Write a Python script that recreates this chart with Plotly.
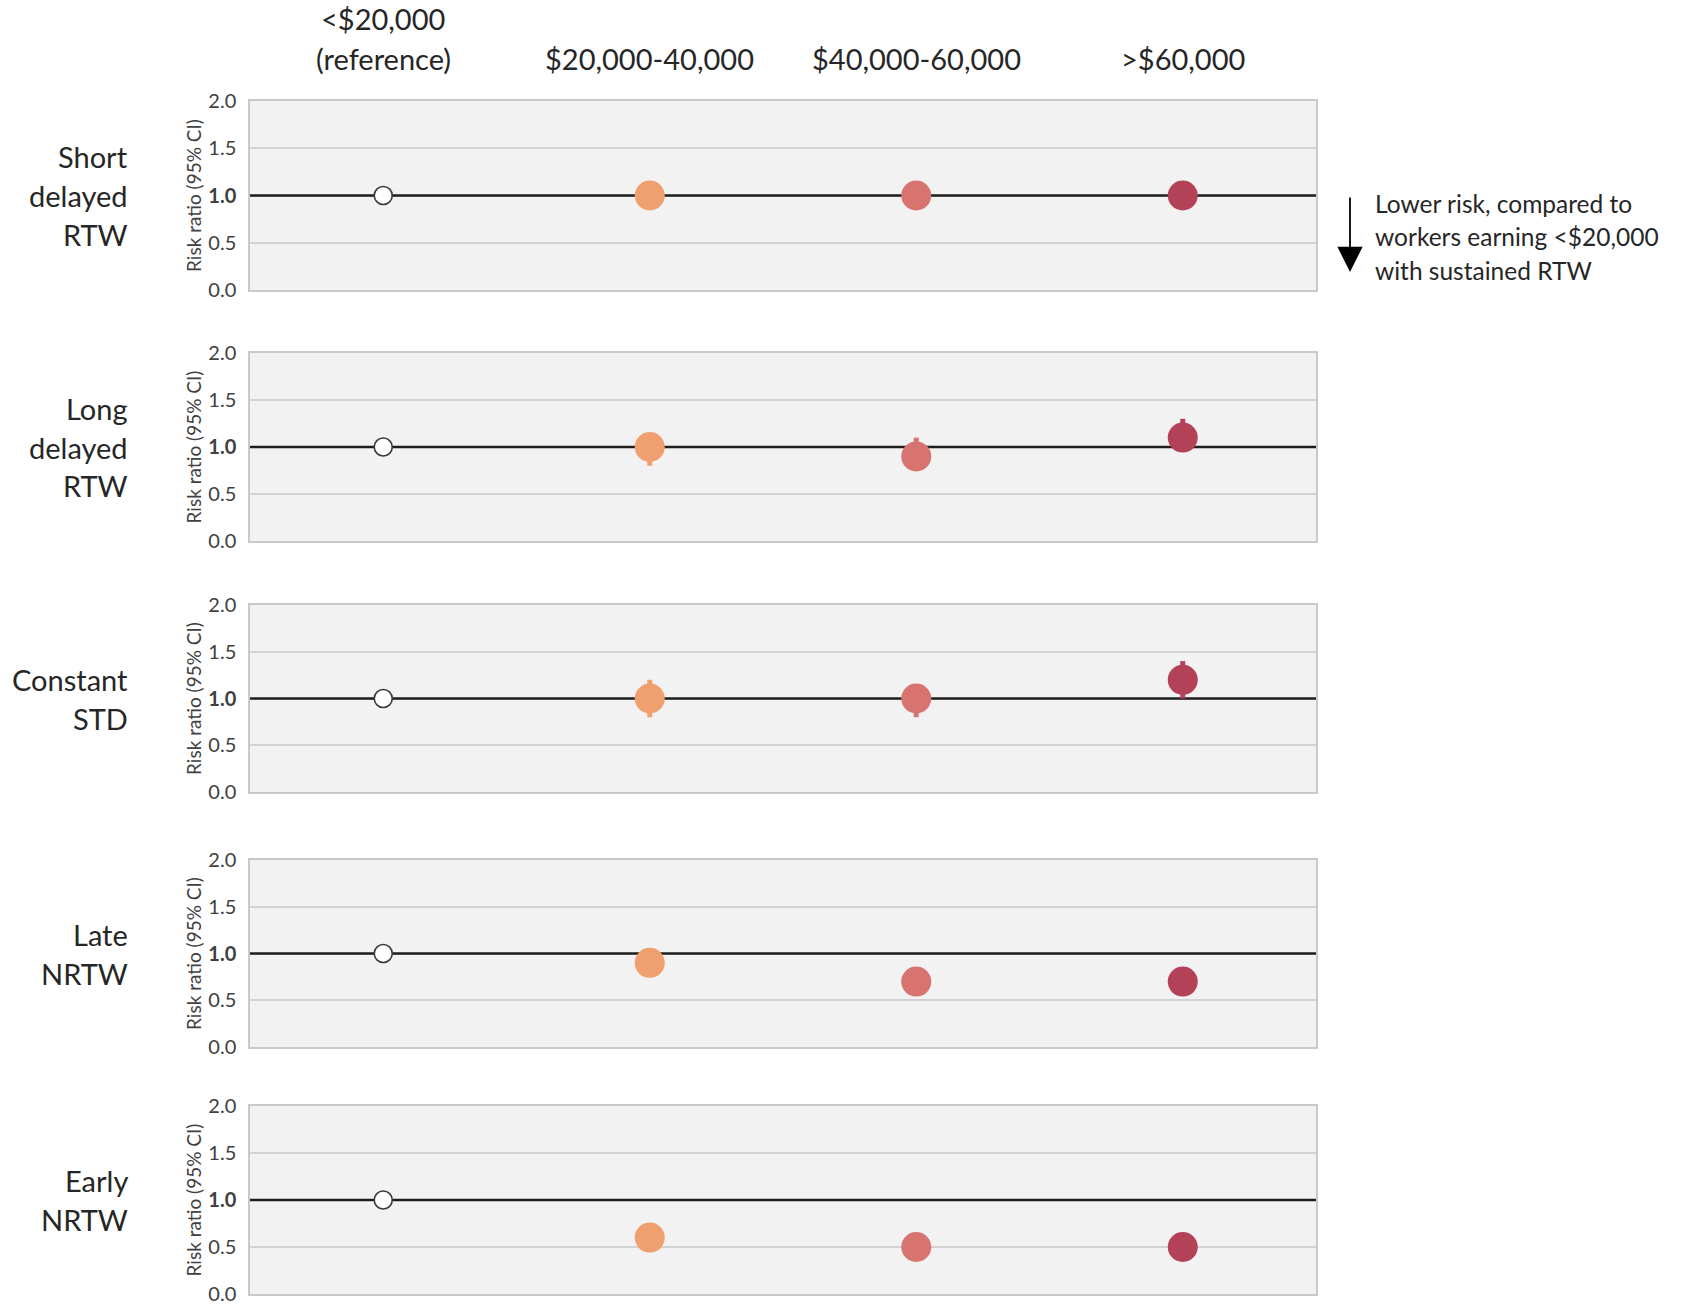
import plotly.graph_objects as go

# Income groups (columns) and return-to-work outcomes (rows)
income_groups = ["<$20,000<br>(reference)", "$20,000-40,000", "$40,000-60,000", ">$60,000"]
outcomes = [["Short", "delayed", "RTW"],
            ["Long", "delayed", "RTW"],
            ["Constant", "STD"],
            ["Late", "NRTW"],
            ["Early", "NRTW"]]

# Risk ratios and 95% CI bounds, one list per outcome (order follows income_groups)
rr_short_delayed = [1.0, 1.0, 1.0, 1.0]
lo_short_delayed = [1.0, 0.9, 0.9, 0.9]
hi_short_delayed = [1.0, 1.1, 1.1, 1.1]

rr_long_delayed = [1.0, 1.0, 0.9, 1.1]
lo_long_delayed = [1.0, 0.8, 0.8, 1.0]
hi_long_delayed = [1.0, 1.1, 1.1, 1.3]

rr_constant_std = [1.0, 1.0, 1.0, 1.2]
lo_constant_std = [1.0, 0.8, 0.8, 1.0]
hi_constant_std = [1.0, 1.2, 1.1, 1.4]

rr_late_nrtw = [1.0, 0.9, 0.7, 0.7]
lo_late_nrtw = [1.0, 0.8, 0.6, 0.6]
hi_late_nrtw = [1.0, 1.0, 0.8, 0.8]

rr_early_nrtw = [1.0, 0.6, 0.5, 0.5]
lo_early_nrtw = [1.0, 0.5, 0.4, 0.4]
hi_early_nrtw = [1.0, 0.7, 0.6, 0.6]

risk_ratios = [rr_short_delayed, rr_long_delayed, rr_constant_std, rr_late_nrtw, rr_early_nrtw]
ci_lower = [lo_short_delayed, lo_long_delayed, lo_constant_std, lo_late_nrtw, lo_early_nrtw]
ci_upper = [hi_short_delayed, hi_long_delayed, hi_constant_std, hi_late_nrtw, hi_early_nrtw]

null_ratio = 1.0
y_tick_values = [0, 0.5, 1.0, 1.5, 2.0]
y_tick_labels = ["0.0", "0.5", "<b>1.0</b>", "1.5", "2.0"]

group_colors = ["#FFFFFF", "#EFA06E", "#D8746F", "#B34158"]

W, H = 1681, 1310
FONT = "Lato, 'Open Sans', sans-serif"
TEXT = "#262626"

# panel extents in pixels from the top of the page
panel_px = [(101, 290), (353, 541), (605, 792), (860, 1047), (1106, 1294)]
x_dom = [250 / W, 1316 / W]
x_range = [-0.5, 3.5]


def py(px):
    return 1 - px / H


fig = go.Figure()
layout = {}
annotations = []

for i, (top, bot) in enumerate(panel_px):
    n = "" if i == 0 else str(i + 1)
    xa, ya = "x" + n, "y" + n
    layout["xaxis" + n] = dict(
        domain=x_dom, anchor=ya, range=x_range, automargin=False,
        showticklabels=False, showgrid=False, zeroline=False,
        showline=True, mirror=True, linecolor="#C9C9C9", linewidth=1.5,
        fixedrange=True,
    )
    layout["yaxis" + n] = dict(
        domain=[py(bot), py(top)], anchor=xa, range=[0, 2], automargin=False,
        tickvals=y_tick_values, ticktext=y_tick_labels,
        tickfont=dict(size=20, color="#404040", family=FONT),
        ticks="outside", ticklen=8, tickcolor="rgba(0,0,0,0)",
        showgrid=True, gridcolor="#D2D2D2", gridwidth=1.5,
        zeroline=False, showline=True, mirror=True,
        linecolor="#C9C9C9", linewidth=1.5,
        title=dict(text="Risk ratio (95% CI)", standoff=2,
                   font=dict(size=19, color="#404040", family=FONT)),
        fixedrange=True,
    )
    # null line at a risk ratio of 1.0, drawn first so markers sit on top
    fig.add_trace(go.Scatter(
        x=x_range, y=[null_ratio, null_ratio], mode="lines",
        line=dict(color="#1E1E1E", width=2.5),
        xaxis=xa, yaxis=ya, showlegend=False, hoverinfo="skip",
    ))

    rr, lo, hi = risk_ratios[i], ci_lower[i], ci_upper[i]
    for g in range(len(income_groups)):
        if g == 0:
            marker = dict(size=18, color=group_colors[0],
                          line=dict(color="#3A3A3A", width=1.6))
            err = None
        else:
            marker = dict(size=30, color=group_colors[g], line=dict(width=0))
            err = dict(type="data", symmetric=False,
                       array=[hi[g] - rr[g]], arrayminus=[rr[g] - lo[g]],
                       color=group_colors[g], thickness=5, width=0)
        fig.add_trace(go.Scatter(
            x=[g], y=[rr[g]], mode="markers", marker=marker, error_y=err,
            xaxis=xa, yaxis=ya, showlegend=False, hoverinfo="skip",
            cliponaxis=False,
        ))

    # outcome label to the left of the panel, one annotation per line
    lines = outcomes[i]
    centre = (top + bot) / 2
    spacing = 39
    start = centre - spacing * (len(lines) - 1) / 2
    for k, line in enumerate(lines):
        annotations.append(dict(
            text=line, xref="paper", yref="paper", x=130 / W,
            y=py(start + k * spacing), xanchor="right", yanchor="middle",
            showarrow=False, font=dict(size=29, color=TEXT, family=FONT)))

# column headers above the first panel
for g, label in enumerate(income_groups):
    parts = label.split("<br>")
    for k, part in enumerate(parts):
        line_px = 58 - 39 * (len(parts) - 1 - k)
        annotations.append(dict(
            text=part, xref="x", yref="paper", x=g, y=py(line_px),
            xanchor="center", yanchor="middle", showarrow=False,
            font=dict(size=29, color=TEXT, family=FONT)))

# direction note beside the first panel
annotations.append(dict(
    text="", xref="paper", yref="paper", x=1350 / W, y=py(272),
    ax=0, ay=-76, showarrow=True, arrowhead=2, arrowsize=2.8,
    arrowwidth=1.8, arrowcolor="#000000"))
note_lines = ["Lower risk, compared to", "workers earning <$20,000", "with sustained RTW"]
for k, line in enumerate(note_lines):
    annotations.append(dict(
        text=line, xref="paper", yref="paper", x=1373 / W, y=py(204 + 33 * k),
        xanchor="left", yanchor="middle", showarrow=False,
        font=dict(size=24.5, color=TEXT, family=FONT)))

fig.update_layout(
    width=W, height=H,
    margin=dict(l=0, r=0, t=0, b=0, autoexpand=False),
    paper_bgcolor="#FFFFFF", plot_bgcolor="#F2F2F2",
    font=dict(family=FONT, color=TEXT),
    annotations=annotations,
    **layout,
)

fig.write_html("out.html")
